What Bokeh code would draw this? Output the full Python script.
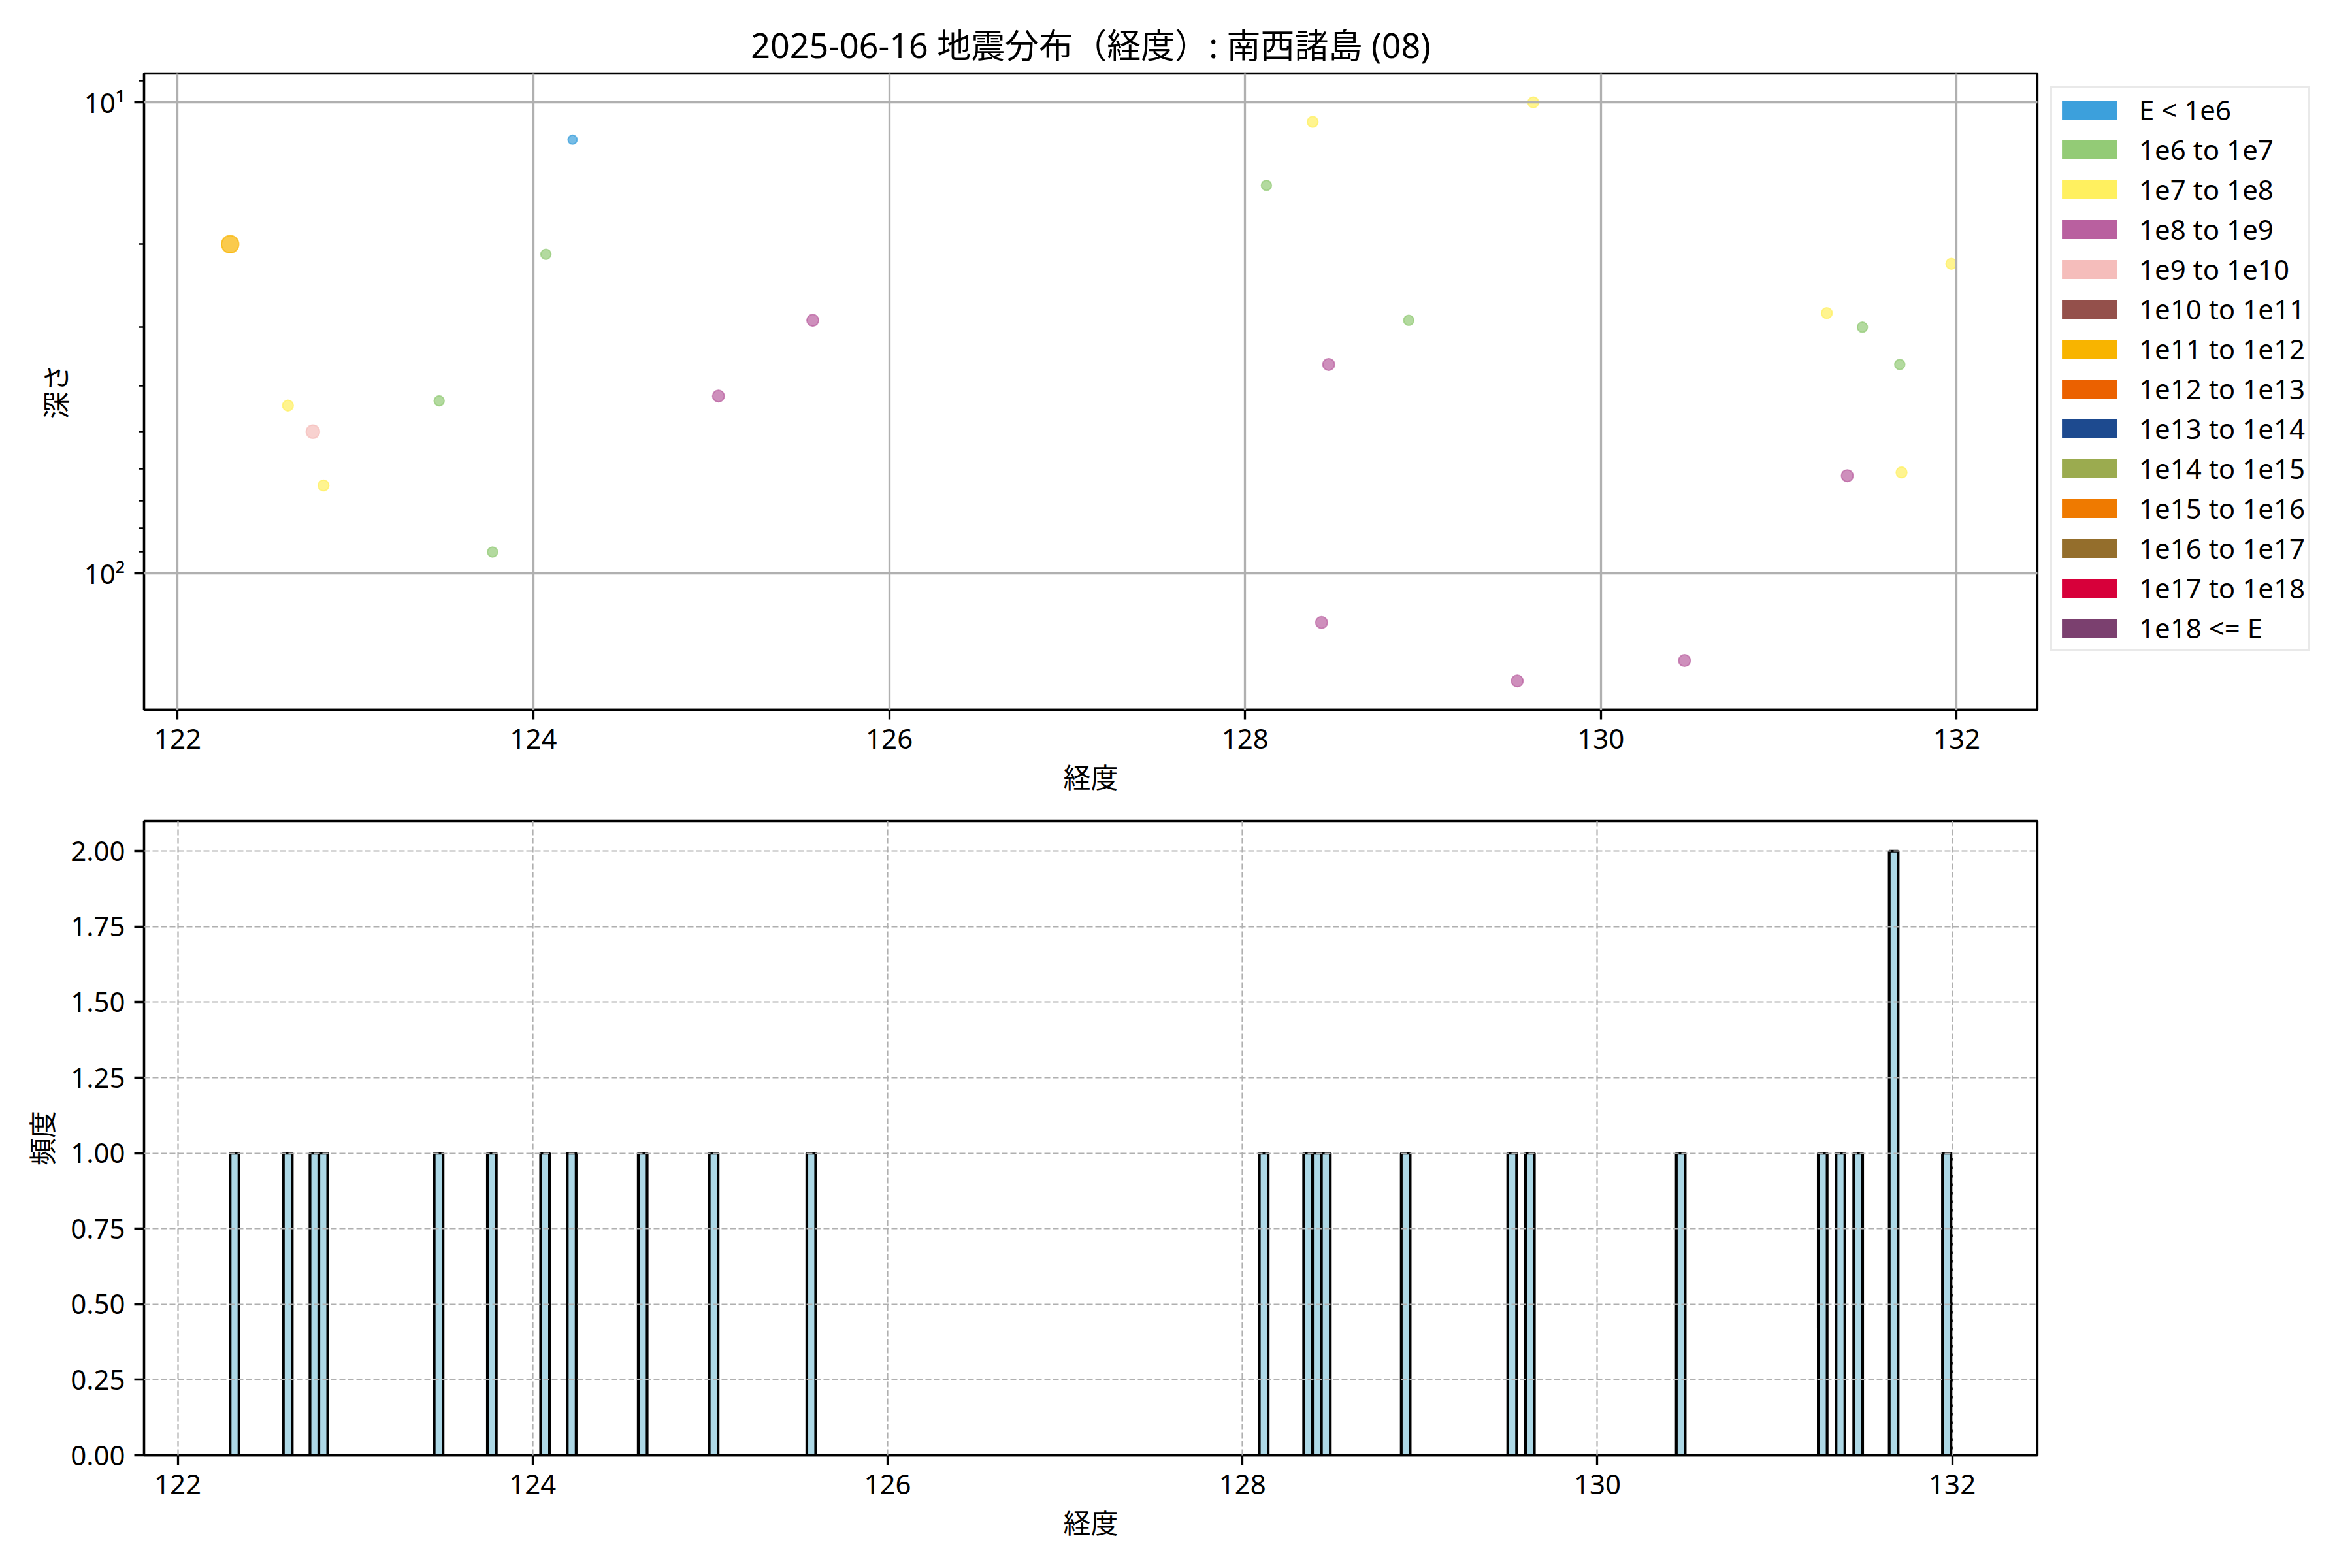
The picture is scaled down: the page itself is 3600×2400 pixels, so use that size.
import numpy as np
from bokeh.plotting import figure
from bokeh.models import Range1d, FixedTicker, Legend, LegendItem, ColumnDataSource
from bokeh.layouts import column
from bokeh.embed import file_html
from bokeh.resources import INLINE

FONT = "Noto Sans, Noto Sans CJK JP"

title_text = "2025-06-16 地震分布（経度）: 南西諸島 (08)"

energy_classes = ["E < 1e6", "1e6 to 1e7", "1e7 to 1e8", "1e8 to 1e9", "1e9 to 1e10",
                  "1e10 to 1e11", "1e11 to 1e12", "1e12 to 1e13", "1e13 to 1e14",
                  "1e14 to 1e15", "1e15 to 1e16", "1e16 to 1e17", "1e17 to 1e18", "1e18 <= E"]
class_colors = ["#3CA0DC", "#93CB76", "#FFF05F", "#B9609F", "#F5BDBB",
                "#94504B", "#F8B400", "#EB6100", "#1D4A8F",
                "#9BAB4F", "#EF7A00", "#946E2C", "#D7003A", "#7B406F"]
class_sizes = [14, 15.5, 16.5, 18, 20.5, 22, 26.5, 28, 30, 32, 34, 36, 38, 40]

longitude = [122.295, 122.62, 122.76, 122.82, 123.47, 123.77, 124.07, 124.22, 124.62,
             125.04, 125.57, 128.12, 128.38, 128.43, 128.47, 128.92, 129.53, 129.62,
             130.47, 131.27, 131.385, 131.47, 131.68, 131.69, 131.97]
depth = [20, 44, 50, 65, 43, 90, 21, 12, 0,
         42, 29, 15, 11, 127, 36, 29, 169, 10,
         153, 28, 62, 30, 36, 61, 22]
energy_class = [6, 2, 4, 2, 1, 1, 1, 0, 1,
                3, 3, 1, 2, 3, 3, 1, 3, 2,
                3, 2, 3, 1, 1, 2, 2]

bin_width = 0.05
x_ticks = [122, 124, 126, 128, 130, 132]
y_ticks_top = [10, 100]
y_minor_top = [9, 20, 30, 40, 50, 60, 70, 80, 90, 200]
y_labels_top = {10: "10¹", 100: "10²"}
y_ticks_hist = [0, 0.25, 0.5, 0.75, 1.0, 1.25, 1.5, 1.75, 2.0]

# ---- data arrays
lon = np.array(longitude, dtype=float)
dep = np.array(depth, dtype=float)
cls = np.array(energy_class)

# histogram
nb = int(np.ceil((lon.max() - lon.min()) / bin_width - 1e-9))
edges = lon.min() + bin_width * np.arange(nb + 1)
counts, _ = np.histogram(lon, bins=edges)

# ---- ranges (matplotlib-like 5% margins)
pad = 0.05 * (lon.max() - lon.min())
x_range_top = Range1d(lon.min() - pad, lon.max() + pad)
hpad = 0.05 * (edges[-1] - edges[0])
x_range_hist = Range1d(edges[0] - hpad, edges[-1] + hpad)

vis = dep > 0
logs = np.log10(dep[vis])
lpad = 0.05 * (logs.max() - logs.min())
y_range_top = Range1d(10 ** (logs.max() + lpad), 10 ** (logs.min() - lpad))

AX = 3.3
def style(p):
    p.outline_line_color = "black"
    p.outline_line_width = AX
    p.outline_line_alpha = 1
    for ax in p.axis:
        ax.axis_line_color = "black"
        ax.axis_line_width = AX
        ax.major_tick_line_color = "black"
        ax.major_tick_line_width = AX
        ax.major_tick_out = 15
        ax.major_tick_in = 0
        ax.major_label_standoff = 14
        ax.major_label_text_font = FONT
        ax.major_label_text_font_size = "42px"
        ax.major_label_text_color = "black"
        ax.axis_label_text_font = FONT
        ax.axis_label_text_font_size = "42px"
        ax.axis_label_text_font_style = "normal"
        ax.axis_label_text_color = "black"
        ax.axis_label_standoff = 12
    p.background_fill_color = "white"
    p.border_fill_color = "white"

# ---- top scatter
p1 = figure(frame_width=2898, frame_height=974, x_range=x_range_top, y_range=y_range_top,
            y_axis_type="log", output_backend="svg", toolbar_location=None,
            min_border_left=220, min_border_top=112, min_border_bottom=140, min_border_right=10,
            title=title_text)
style(p1)
p1.title.text_font = FONT
p1.title.text_font_size = "52px"
p1.title.text_font_style = "normal"
p1.title.text_color = "black"
p1.title.align = "center"
p1.title.standoff = 18

p1.xaxis.ticker = FixedTicker(ticks=x_ticks)
p1.xaxis.minor_tick_out = 0
p1.xaxis.minor_tick_in = 0
p1.yaxis.ticker = FixedTicker(ticks=y_ticks_top, minor_ticks=y_minor_top)
p1.yaxis.major_label_overrides = y_labels_top
p1.yaxis.minor_tick_out = 8
p1.yaxis.minor_tick_in = 0
p1.yaxis.minor_tick_line_color = "black"
p1.yaxis.minor_tick_line_width = 2.5
p1.xaxis.axis_label = "経度"
p1.yaxis.axis_label = "深さ"
for g in (p1.xgrid, p1.ygrid):
    g.grid_line_color = "#b0b0b0"
    g.grid_line_width = 3.3
    g.level = "overlay"

src = ColumnDataSource(dict(
    x=lon[vis], y=dep[vis],
    color=[class_colors[c] for c in cls[vis]],
    size=[class_sizes[c] for c in cls[vis]],
))
p1.scatter("x", "y", source=src, size="size", fill_color="color", line_color="color",
           fill_alpha=0.7, line_alpha=0.7, line_width=2)

items = []
for lab, col in zip(energy_classes, class_colors):
    r = p1.quad(left=[np.nan], right=[np.nan], top=[np.nan], bottom=[np.nan],
                fill_color=col, line_color=None)
    items.append(LegendItem(label=lab, renderers=[r]))
legend = Legend(items=items, location="top_left", margin=20, padding=4,
                glyph_width=106, glyph_height=36, label_standoff=23, spacing=4,
                label_text_font=FONT, label_text_font_size="42px", label_text_color="black",
                border_line_color="#d4d4d4", border_line_width=3.5, background_fill_color="white",
                background_fill_alpha=1)
p1.add_layout(legend, "right")

# ---- histogram
p2 = figure(frame_width=2898, frame_height=971, x_range=x_range_hist,
            y_range=Range1d(0, counts.max() * 1.05),
            output_backend="svg", toolbar_location=None,
            min_border_left=220, min_border_top=30, min_border_bottom=140, min_border_right=10)
style(p2)
p2.xaxis.ticker = FixedTicker(ticks=x_ticks)
p2.yaxis.ticker = FixedTicker(ticks=y_ticks_hist)
p2.yaxis.major_label_overrides = {t: f"{t:.2f}" for t in y_ticks_hist}
p2.xaxis.axis_label = "経度"
p2.yaxis.axis_label = "頻度"
p2.quad(left=edges[:-1], right=edges[1:], top=counts, bottom=0,
        fill_color="#ADD8E6", line_color="black", line_width=4.2)
for g in (p2.xgrid, p2.ygrid):
    g.grid_line_color = "#b0b0b0"
    g.grid_line_width = 2.2
    g.grid_line_dash = "9 4"
    g.level = "overlay"

layout = column(p1, p2, spacing=0)
open("out.html", "w").write(file_html(layout, INLINE))
